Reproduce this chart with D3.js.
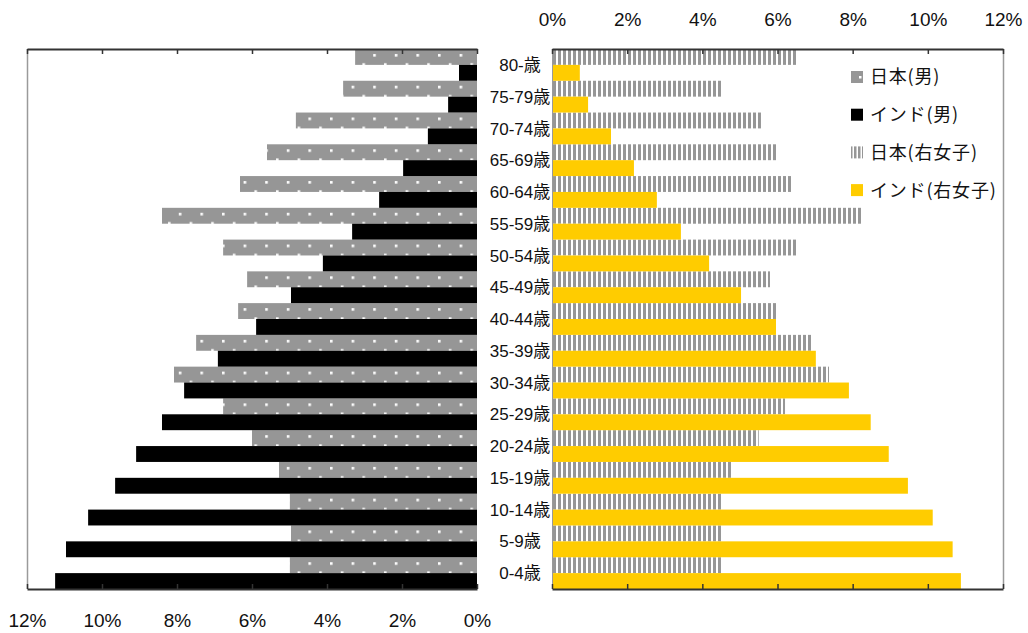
<!DOCTYPE html>
<html>
<head>
<meta charset="utf-8">
<script src="https://cdn.jsdelivr.net/npm/d3@7"></script>
<style>
  body { margin: 0; background: #fff; }
  text { font-family: "Liberation Sans", Arial, "Noto Sans CJK JP", sans-serif; }
</style>
</head>
<body>
<div class="canva"></div>
<script>
// 年齢階級 (上から)
const ages = ["80-歳","75-79歳","70-74歳","65-69歳","60-64歳","55-59歳","50-54歳","45-49歳",
  "40-44歳","35-39歳","30-34歳","25-29歳","20-24歳","15-19歳","10-14歳","5-9歳","0-4歳"];

// % of population
const japanMale   = [3.25,3.57,4.83,5.6,6.32,8.4,6.77,6.13,6.37,7.49,8.08,6.77,6.0,5.28,4.99,4.96,4.99];
const indiaMale   = [0.48,0.77,1.31,1.97,2.61,3.33,4.11,4.96,5.89,6.91,7.81,8.4,9.09,9.65,10.37,10.96,11.25];
const japanFemale = [6.54,4.55,5.56,5.98,6.41,8.24,6.54,5.8,5.98,6.91,7.37,6.2,5.5,4.79,4.55,4.55,4.55];
const indiaFemale = [0.74,0.96,1.57,2.18,2.79,3.43,4.18,5.03,5.96,7.02,7.9,8.48,8.96,9.47,10.13,10.66,10.88];

const ticks = [0,2,4,6,8,10,12];
const legendNames = ["日本(男)","インド(男)","日本(右女子)","インド(右女子)"];

const width = 1028, height = 633;
const plotTop = 49, plotBottom = 589;

const svg = d3.select(".canva").append("svg")
  .attr("width", width)
  .attr("height", height);

const xL = d3.scaleLinear().domain([0, 12]).range([477, 27]);
const xR = d3.scaleLinear().domain([0, 12]).range([552, 1003]);
const y = d3.scaleBand().domain(ages).range([plotTop, plotBottom]).padding(0);
const sub = d3.scaleBand().domain(["jp","in"]).range([0, y.bandwidth()]).paddingInner(0);

// patterns
const defs = svg.append("defs");
const bw = y.bandwidth();
const dots = defs.append("pattern")
  .attr("id", "dots")
  .attr("patternUnits", "userSpaceOnUse")
  .attr("width", 21.6).attr("height", bw)
  .attr("x", 6).attr("y", plotTop);
dots.append("rect").attr("width", 21.6).attr("height", bw).attr("fill", "#969696");
[[0,5],[10.8,14.2]].forEach(p => {
  dots.append("rect").attr("x", p[0]).attr("y", p[1]).attr("width", 2.6).attr("height", 2.6).attr("fill", "#fff");
});

const stripes = defs.append("pattern")
  .attr("id", "stripes")
  .attr("patternUnits", "userSpaceOnUse")
  .attr("width", 5).attr("height", 10)
  .attr("x", 553);
stripes.append("rect").attr("width", 5).attr("height", 10).attr("fill", "#fff");
stripes.append("rect").attr("width", 3).attr("height", 10).attr("fill", "#969696");

// side borders
svg.append("line").attr("x1", 27.5).attr("x2", 27.5).attr("y1", plotTop).attr("y2", plotBottom)
  .attr("stroke", "#9a9a9a").attr("stroke-width", 1.5);
svg.append("line").attr("x1", 1003.5).attr("x2", 1003.5).attr("y1", plotTop).attr("y2", plotBottom)
  .attr("stroke", "#9a9a9a").attr("stroke-width", 1.5);

function bars(data, x, key, fill) {
  svg.append("g").selectAll("rect")
    .data(data)
    .enter().append("rect")
    .attr("x", d => Math.min(x(0), x(d)))
    .attr("width", d => Math.abs(x(d) - x(0)))
    .attr("y", (d, i) => y(ages[i]) + sub(key))
    .attr("height", sub.bandwidth())
    .attr("fill", fill);
}
bars(japanMale, xL, "jp", "url(#dots)");
bars(indiaMale, xL, "in", "#000");
bars(japanFemale, xR, "jp", "url(#stripes)");
bars(indiaFemale, xR, "in", "#FFCC00");

// white label column
svg.append("rect").attr("x", 478).attr("y", plotTop).attr("width", 74).attr("height", plotBottom - plotTop).attr("fill", "#fff");
svg.append("line").attr("x1", 552.5).attr("x2", 552.5).attr("y1", plotTop).attr("y2", plotBottom)
  .attr("stroke", "#9a9a9a").attr("stroke-width", 1);

svg.append("g").selectAll("text")
  .data(ages)
  .enter().append("text")
  .attr("x", 520)
  .attr("y", d => y(d) + y.bandwidth() / 2)
  .attr("dy", "0.36em")
  .attr("text-anchor", "middle")
  .style("font-size", "17px")
  .style("fill", "#111")
  .text(d => d);

// axes
const fmt = d => d + "%";
function axisStyle(g) {
  g.select(".domain").attr("stroke", "#333").attr("stroke-width", 2);
  g.selectAll(".tick line").attr("stroke", "#333").attr("stroke-width", 1.5);
  g.selectAll("text").style("font-size", "19px").style("fill", "#111")
    .style("font-family", "'Liberation Sans', Arial, sans-serif");
}
svg.append("g").attr("transform", `translate(0,${plotTop})`)
  .call(d3.axisTop(xR).tickValues(ticks).tickFormat(fmt).tickSizeInner(-5).tickSizeOuter(0).tickPadding(23))
  .call(axisStyle);
svg.append("g").attr("transform", `translate(0,${plotTop})`)
  .call(d3.axisTop(xL).tickValues(ticks).tickFormat("").tickSizeInner(-5).tickSizeOuter(0))
  .call(axisStyle);
svg.append("g").attr("transform", `translate(0,${plotBottom})`)
  .call(d3.axisBottom(xL).tickValues(ticks).tickFormat(fmt).tickSizeInner(-5).tickSizeOuter(0).tickPadding(25))
  .call(axisStyle);
svg.append("g").attr("transform", `translate(0,${plotBottom})`)
  .call(d3.axisBottom(xR).tickValues(ticks).tickFormat("").tickSizeInner(-5).tickSizeOuter(0))
  .call(axisStyle);

// legend
const legendFills = ["#969696", "#000", "url(#legstripes)", "#FFCC00"];
const legStripes = defs.append("pattern")
  .attr("id", "legstripes").attr("patternUnits", "userSpaceOnUse")
  .attr("width", 4).attr("height", 10).attr("x", 851);
legStripes.append("rect").attr("width", 4).attr("height", 10).attr("fill", "#fff");
legStripes.append("rect").attr("width", 2.5).attr("height", 10).attr("fill", "#969696");

const legend = svg.append("g");
const item = legend.selectAll("g")
  .data(legendNames)
  .enter().append("g")
  .attr("transform", (d, i) => `translate(851,${77 + i * 37.7})`);
item.append("rect")
  .attr("x", 0).attr("y", -6).attr("width", 12).attr("height", 12)
  .attr("fill", (d, i) => legendFills[i]);
item.filter((d, i) => i === 0).append("rect")
  .attr("x", 8).attr("y", -1).attr("width", 2.5).attr("height", 2.5).attr("fill", "#fff");
item.append("text")
  .attr("x", 19).attr("dy", "0.36em")
  .style("font-family", "'Noto Sans CJK JP', sans-serif")
  .style("font-size", "18px")
  .style("letter-spacing", "0.8px")
  .style("fill", "#111")
  .text(d => d);
</script>
</body>
</html>
